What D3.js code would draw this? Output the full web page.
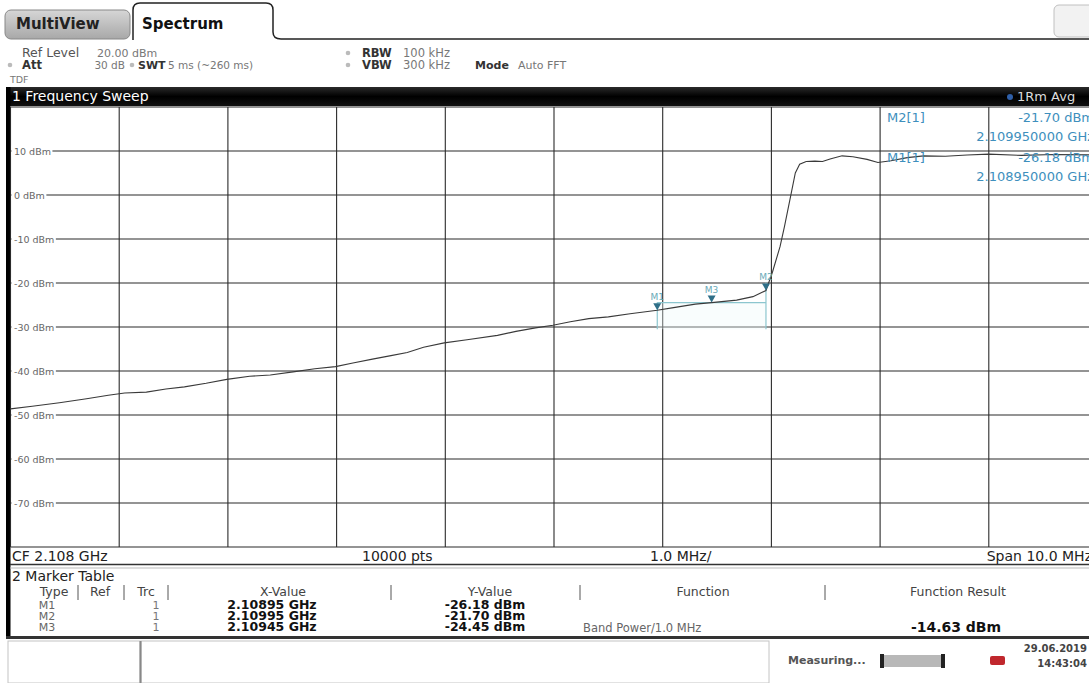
<!DOCTYPE html>
<html>
<head>
<meta charset="utf-8">
<script src="https://cdn.jsdelivr.net/npm/d3@7"></script>
<style>
  body { margin: 0; background: #fff; }
  svg { display: block; font-family: "DejaVu Sans", Verdana, sans-serif; }
</style>
</head>
<body>
<div id="chart"></div>
<script>
'use strict';

// trace 1 (frequency in GHz, level in dBm)
var traceFreq = [2.10300, 2.10320, 2.10345, 2.10370, 2.10390, 2.10405, 2.10425, 2.10443, 2.10460, 2.10480,
  2.10499, 2.10520, 2.10539, 2.10560, 2.10580, 2.10599, 2.10615, 2.10633, 2.10650, 2.10665,
  2.10680, 2.10699, 2.10720, 2.10748, 2.10765, 2.10783, 2.10799, 2.10815, 2.10832, 2.10850,
  2.10870, 2.10895, 2.10910, 2.10930, 2.10945, 2.10968, 2.10983, 2.10995, 2.11001, 2.11008,
  2.11012, 2.11017, 2.11022, 2.11026, 2.11032, 2.11040, 2.11047, 2.11054, 2.11065, 2.11075,
  2.11088, 2.11098, 2.11110, 2.11125, 2.11140, 2.11160, 2.11180, 2.11200, 2.11230, 2.11260, 2.11300];
var traceLevel = [-48.6, -48.0, -47.2, -46.3, -45.5, -45.0, -44.8, -44.1, -43.6, -42.8,
  -41.9, -41.2, -40.9, -40.2, -39.5, -39.0, -38.2, -37.3, -36.5, -35.8,
  -34.6, -33.6, -32.9, -31.9, -31.0, -30.2, -29.6, -28.8, -28.1, -27.7,
  -27.0, -26.18, -25.6, -24.8, -24.45, -23.9, -23.1, -21.7, -17.5, -11.7,
  -7.2, -1.1, 5.0, 7.0, 7.6, 7.7, 7.6, 8.2, 8.9, 8.7,
  8.1, 7.4, 7.8, 8.5, 8.9, 8.8, 9.1, 9.3, 9.0, 9.2, 9.1];

var markerNames = ["M1", "M2", "M3"];
var markerFreq = [2.10895, 2.10995, 2.10945];
var markerLevel = [-26.18, -21.70, -24.45];
var markerXText = ["2.10895 GHz", "2.10995 GHz", "2.10945 GHz"];
var markerYText = ["-26.18 dBm", "-21.70 dBm", "-24.45 dBm"];

var levelTicks = [10, 0, -10, -20, -30, -40, -50, -60, -70];
var freqTicks = d3.range(0, 11).map(function(i) { return 2.103 + i * 0.001; });

var W = 1089, H = 683;
var plot = {left: 10.5, right: 1097.5, top: 107, bottom: 547};

var x = d3.scaleLinear().domain([2.103, 2.113]).range([plot.left, plot.right]);
var y = d3.scaleLinear().domain([-80, 20]).range([plot.bottom, plot.top]);

var svg = d3.select("#chart").append("svg")
  .attr("width", W).attr("height", H);

var defs = svg.append("defs");
var g1 = defs.append("linearGradient").attr("id", "tabGray").attr("x1", 0).attr("y1", 0).attr("x2", 0).attr("y2", 1);
g1.append("stop").attr("offset", "0").attr("stop-color", "#d6d6d6");
g1.append("stop").attr("offset", "1").attr("stop-color", "#a8a8a8");
var g2 = defs.append("linearGradient").attr("id", "barBlack").attr("x1", 0).attr("y1", 0).attr("x2", 0).attr("y2", 1);
g2.append("stop").attr("offset", "0").attr("stop-color", "#2a2a2a");
g2.append("stop").attr("offset", "0.5").attr("stop-color", "#000");
g2.append("stop").attr("offset", "1").attr("stop-color", "#111");

svg.append("rect").attr("width", W).attr("height", H).attr("fill", "#fff");

// tabs
svg.append("rect").attr("x", 5).attr("y", 10).attr("width", 125).attr("height", 29).attr("rx", 6)
  .attr("fill", "url(#tabGray)").attr("stroke", "#888");
svg.append("text").attr("x", 16).attr("y", 29).attr("font-size", 15).attr("font-weight", "bold")
  .attr("fill", "#222").text("MultiView");
svg.append("path")
  .attr("d", "M133,40 L133,10 Q133,3 140,3 L266,3 Q273,3 273,10 L273,32 Q273,39 281,39 L1089,39")
  .attr("fill", "#fff").attr("stroke", "#222").attr("stroke-width", 1.5);
svg.append("text").attr("x", 142).attr("y", 29).attr("font-size", 15).attr("font-weight", "bold")
  .attr("fill", "#111").text("Spectrum");
svg.append("rect").attr("x", 1054).attr("y", 5).attr("width", 40).attr("height", 32).attr("rx", 5)
  .attr("fill", "#f2f2f2").attr("stroke", "#c0c0c0");

// setting header
var hdr = svg.append("g");
function hText(px, py, s, bold, size, col, anchor) {
  hdr.append("text").attr("x", px).attr("y", py).attr("font-size", size)
    .attr("font-weight", bold ? "bold" : "normal")
    .attr("text-anchor", anchor || "start")
    .attr("fill", col || (bold ? "#333" : "#777")).text(s);
}
function hDot(px, py) {
  hdr.append("circle").attr("cx", px).attr("cy", py).attr("r", 2.3).attr("fill", "#bbb");
}
hText(22, 57, "Ref Level", false, 12.5, "#555");
hText(97, 57, "20.00 dBm", false, 11);
hDot(10, 65); hText(22, 69, "Att", true, 11.5);
hText(125, 69, "30 dB", false, 10.5, null, "end");
hDot(132, 65); hText(138, 69, "SWT", true, 11);
hText(168, 69, "5 ms (~260 ms)", false, 10.5);
hDot(348, 53); hText(362, 57, "RBW", true, 11.5);
hText(403, 57, "100 kHz", false, 11.5);
hDot(348, 65); hText(362, 69, "VBW", true, 11.5);
hText(403, 69, "300 kHz", false, 11.5);
hText(475, 69, "Mode", true, 11);
hText(518, 69, "Auto FFT", false, 11);
hText(10, 83, "TDF", false, 9.5);

// window title bar
svg.append("rect").attr("x", 6).attr("y", 87).attr("width", W - 6).attr("height", 19).attr("fill", "url(#barBlack)");
svg.append("text").attr("x", 12).attr("y", 101).attr("font-size", 14).attr("fill", "#fff").text("1 Frequency Sweep");
svg.append("circle").attr("cx", 1010).attr("cy", 97).attr("r", 3).attr("fill", "#2f5fa8");
svg.append("text").attr("x", 1017).attr("y", 101).attr("font-size", 13).attr("fill", "#ddd").text("1Rm Avg");

// left frame bar
svg.append("rect").attr("x", 6).attr("y", 87).attr("width", 4.5).attr("height", 551).attr("fill", "#000");

// grid
var grid = svg.append("g").attr("stroke", "#2b2b2b").attr("stroke-width", 1.1);
grid.selectAll("line.v").data(freqTicks).enter().append("line")
  .attr("x1", function(d) { return x(d); }).attr("x2", function(d) { return x(d); })
  .attr("y1", plot.top).attr("y2", plot.bottom);
grid.selectAll("line.h").data(d3.range(-80, 21, 10)).enter().append("line")
  .attr("x1", plot.left).attr("x2", plot.right)
  .attr("y1", function(d) { return y(d); }).attr("y2", function(d) { return y(d); });

// level labels, with a white box hiding the grid line beneath
var lab = svg.append("g").attr("font-size", 9.5).attr("fill", "#666");
levelTicks.forEach(function(v) {
  var t = lab.append("text").attr("x", 14).attr("y", y(v) + 3.5).text(v + " dBm");
  var b = t.node().getBBox();
  lab.insert("rect", "text").attr("x", 11.5).attr("y", b.y).attr("width", b.x + b.width - 10).attr("height", b.height)
    .attr("fill", "#fff");
});

// band power span (M3, 1 MHz)
var bp = svg.append("g").attr("stroke", "#8cc6cf").attr("stroke-width", 1.2);
bp.append("rect").attr("x", x(markerFreq[0])).attr("y", y(markerLevel[2]))
  .attr("width", x(markerFreq[1]) - x(markerFreq[0])).attr("height", y(-30.5) - y(markerLevel[2]))
  .attr("fill", "#eef8fa").attr("fill-opacity", 0.35).attr("stroke", "none");
bp.append("line").attr("x1", x(markerFreq[0])).attr("x2", x(markerFreq[1]))
  .attr("y1", y(markerLevel[2])).attr("y2", y(markerLevel[2]));
[0, 1].forEach(function(i) {
  bp.append("line").attr("x1", x(markerFreq[i])).attr("x2", x(markerFreq[i]))
    .attr("y1", y(markerLevel[i]) - 8).attr("y2", y(-30.5));
});

// trace
var line = d3.line()
  .x(function(d) { return x(d[0]); })
  .y(function(d) { return y(d[1]); });
svg.append("path")
  .datum(d3.zip(traceFreq, traceLevel))
  .attr("d", line)
  .attr("fill", "none").attr("stroke", "#3a3a3a").attr("stroke-width", 1.1);

// markers
var mk = svg.append("g");
markerNames.forEach(function(n, i) {
  var mx = x(markerFreq[i]), my = y(markerLevel[i]);
  mk.append("path").attr("d", "M" + (mx - 4) + "," + (my - 7) + "L" + (mx + 4) + "," + (my - 7) + "L" + mx + "," + my + "Z")
    .attr("fill", "#2f6f88");
  mk.append("text").attr("x", mx).attr("y", my - 10).attr("text-anchor", "middle")
    .attr("font-size", 9).attr("fill", "#6aaab8").text(n);
});

// marker info (upper right), the screenshot cuts it at the right edge
var info = svg.append("g").attr("font-size", 13).attr("fill", "#3e8fbd");
info.append("text").attr("x", 887).attr("y", 122).text("M2[1]");
info.append("text").attr("x", 1094).attr("y", 122).attr("text-anchor", "end").text(markerYText[1]);
info.append("text").attr("x", 1094).attr("y", 141).attr("text-anchor", "end").text("2.109950000 GHz");
info.append("text").attr("x", 887).attr("y", 162).text("M1[1]");
info.append("text").attr("x", 1094).attr("y", 162).attr("text-anchor", "end").text(markerYText[0]);
info.append("text").attr("x", 1094).attr("y", 181).attr("text-anchor", "end").text("2.108950000 GHz");

// footer of the diagram
var ft = svg.append("g").attr("font-size", 14).attr("fill", "#222");
ft.append("text").attr("x", 12).attr("y", 561).text("CF 2.108 GHz");
ft.append("text").attr("x", 362).attr("y", 561).text("10000 pts");
ft.append("text").attr("x", 650).attr("y", 561).text("1.0 MHz/");
ft.append("text").attr("x", 1092).attr("y", 561).attr("text-anchor", "end").text("Span 10.0 MHz");
svg.append("line").attr("x1", 10).attr("x2", W).attr("y1", 564.5).attr("y2", 564.5).attr("stroke", "#333").attr("stroke-width", 1.5);
svg.append("line").attr("x1", 10).attr("x2", W).attr("y1", 568).attr("y2", 568).attr("stroke", "#bbb").attr("stroke-width", 1);

// marker table
var tb = svg.append("g");
tb.append("text").attr("x", 12).attr("y", 581).attr("font-size", 14).attr("fill", "#222").text("2 Marker Table");
var heads = [["Type", 54], ["Ref", 100], ["Trc", 146], ["X-Value", 283], ["Y-Value", 490], ["Function", 703], ["Function Result", 958]];
heads.forEach(function(h) {
  tb.append("text").attr("x", h[1]).attr("y", 596).attr("text-anchor", "middle")
    .attr("font-size", 12.5).attr("fill", "#444").text(h[0]);
});
[78, 124, 168, 391, 580, 825].forEach(function(sx) {
  tb.append("line").attr("x1", sx).attr("x2", sx).attr("y1", 585).attr("y2", 600)
    .attr("stroke", "#555").attr("stroke-width", 1);
});
var rowY = [609, 620, 631];
markerNames.forEach(function(n, i) {
  tb.append("text").attr("x", 47).attr("y", rowY[i]).attr("text-anchor", "middle")
    .attr("font-size", 11).attr("fill", "#666").text(n);
  tb.append("text").attr("x", 156).attr("y", rowY[i]).attr("text-anchor", "middle")
    .attr("font-size", 11).attr("fill", "#777").text("1");
  tb.append("text").attr("x", 272).attr("y", rowY[i]).attr("text-anchor", "middle")
    .attr("font-size", 12.5).attr("font-weight", "bold").attr("fill", "#111").text(markerXText[i]);
  tb.append("text").attr("x", 485).attr("y", rowY[i]).attr("text-anchor", "middle")
    .attr("font-size", 12.5).attr("font-weight", "bold").attr("fill", "#111").text(markerYText[i]);
});
tb.append("text").attr("x", 583).attr("y", 632).attr("font-size", 11.5).attr("fill", "#666").text("Band Power/1.0 MHz");
tb.append("text").attr("x", 956).attr("y", 632).attr("text-anchor", "middle")
  .attr("font-size", 14).attr("font-weight", "bold").attr("fill", "#111").text("-14.63 dBm");

// status bar
svg.append("line").attr("x1", 6).attr("x2", W).attr("y1", 637.5).attr("y2", 637.5).attr("stroke", "#333").attr("stroke-width", 3);
svg.append("rect").attr("x", 8).attr("y", 641).attr("width", 132).attr("height", 42).attr("fill", "#fff").attr("stroke", "#c4c4c4");
svg.append("rect").attr("x", 141).attr("y", 641).attr("width", 628).attr("height", 42).attr("fill", "#fff").attr("stroke", "#c4c4c4");
svg.append("line").attr("x1", 140.5).attr("x2", 140.5).attr("y1", 641).attr("y2", 683).attr("stroke", "#888").attr("stroke-width", 2);
svg.append("text").attr("x", 788).attr("y", 664).attr("font-size", 11).attr("font-weight", "bold").attr("fill", "#555").text("Measuring...");
svg.append("rect").attr("x", 880).attr("y", 655).attr("width", 65).attr("height", 12).attr("fill", "#b8b8b8");
svg.append("rect").attr("x", 880).attr("y", 654).attr("width", 4).attr("height", 14).attr("fill", "#222");
svg.append("rect").attr("x", 941).attr("y", 654).attr("width", 4).attr("height", 14).attr("fill", "#222");
svg.append("rect").attr("x", 990).attr("y", 656).attr("width", 15).attr("height", 9).attr("rx", 2).attr("fill", "#c0272d");
svg.append("text").attr("x", 1087).attr("y", 652).attr("text-anchor", "end").attr("font-size", 10).attr("font-weight", "bold").attr("fill", "#444").text("29.06.2019");
svg.append("text").attr("x", 1087).attr("y", 667).attr("text-anchor", "end").attr("font-size", 10).attr("font-weight", "bold").attr("fill", "#444").text("14:43:04");
</script>
</body>
</html>
